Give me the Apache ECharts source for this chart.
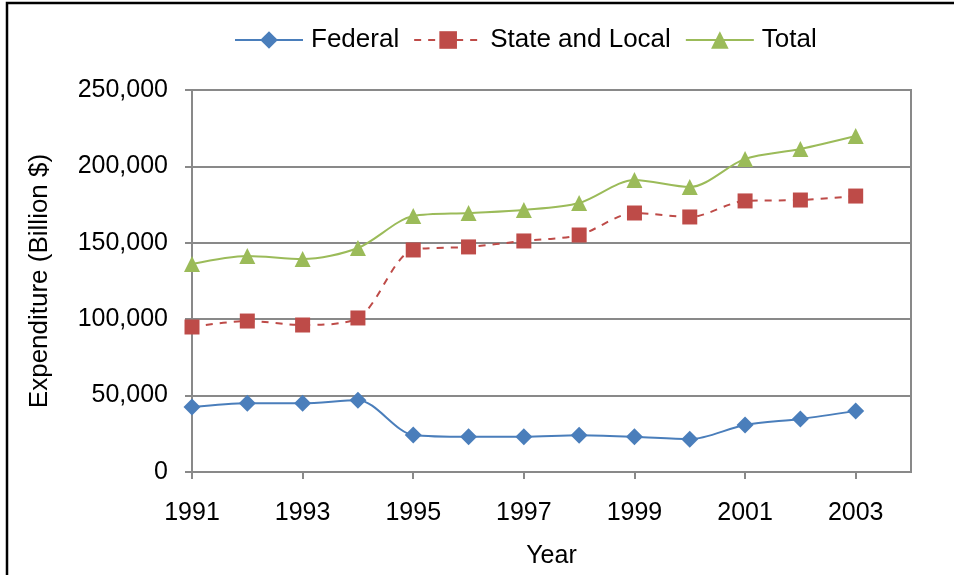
<!DOCTYPE html>
<html>
<head>
<meta charset="utf-8">
<script src="https://cdn.jsdelivr.net/npm/echarts@6/dist/echarts.min.js"></script>
<style>
    html, body { margin: 0; padding: 0; background: #fff; }
    #chart { width: 954px; height: 575px; }
</style>
</head>
<body>
<div id="chart"></div>
<script>
    // years on the x axis (2004 is an empty slot so the plot runs past 2003)
    var years = ['1991', '1992', '1993', '1994', '1995', '1996', '1997', '1998', '1999', '2000', '2001', '2002', '2003', '2004'];
    var federal = [42500, 45000, 45000, 47000, 24200, 23000, 23000, 24000, 23000, 21500, 30800, 34700, 40000];
    var stateLocal = [94900, 98800, 96200, 100800, 145300, 147300, 151200, 155100, 169500, 166900, 177400, 178000, 180600];
    var total = [136100, 141400, 139400, 146600, 167500, 169500, 171500, 176000, 191100, 186500, 204900, 211400, 219900];

    var font = 'Liberation Sans, Arial, sans-serif';
    var gray = '#898989';

    var chart = echarts.init(document.getElementById('chart'));
    chart.setOption({
        animation: false,
        textStyle: { fontFamily: font },
        graphic: [{
            type: 'rect',
            shape: { x: 7, y: 3, width: 1200, height: 1200 },
            style: { fill: 'none', stroke: '#000', lineWidth: 2.5 },
            silent: true
        }],
        legend: {
            top: 22,
            left: 229,
            itemWidth: 68,
            itemHeight: 22,
            itemGap: 14,
            textStyle: { fontSize: 26, color: '#000', fontFamily: font, padding: [0, 0, 0, 3] },
            data: ['Federal', 'State and Local', 'Total']
        },
        grid: {
            left: 192,
            right: 43,
            top: 90,
            bottom: 103,
            show: true,
            borderColor: gray,
            borderWidth: 2,
            containLabel: false
        },
        xAxis: {
            type: 'category',
            data: years,
            boundaryGap: false,
            name: 'Year',
            nameLocation: 'middle',
            nameGap: 72,
            nameTextStyle: { fontSize: 25, color: '#000', fontFamily: font },
            axisLine: { lineStyle: { color: gray, width: 2 } },
            axisTick: { show: true, interval: 1, length: 7, lineStyle: { color: gray, width: 2 } },
            axisLabel: { interval: 1, margin: 29, fontSize: 25, color: '#000', fontFamily: font },
            splitLine: { show: false }
        },
        yAxis: {
            type: 'value',
            min: 0,
            max: 250000,
            interval: 50000,
            name: 'Expenditure (Billion $)',
            nameLocation: 'middle',
            nameGap: 139,
            nameTextStyle: { fontSize: 26, color: '#000', fontFamily: font },
            axisLine: { show: true, lineStyle: { color: gray, width: 2 } },
            axisTick: { show: true, length: 7, lineStyle: { color: gray, width: 2 } },
            axisLabel: {
                margin: 24,
                fontSize: 25,
                color: '#000',
                fontFamily: font,
                formatter: function (v) { return v.toLocaleString('en-US'); }
            },
            splitLine: { lineStyle: { color: gray, width: 2 } }
        },
        series: [
            {
                name: 'Federal',
                type: 'line',
                data: federal,
                smooth: 0.3,
                symbol: 'diamond',
                symbolSize: 17,
                color: '#4A7EBB',
                lineStyle: { width: 2, color: '#4A7EBB' },
                itemStyle: { color: '#4A7EBB' }
            },
            {
                name: 'State and Local',
                type: 'line',
                data: stateLocal,
                smooth: 0.3,
                symbol: 'rect',
                symbolSize: 15,
                color: '#BE4B48',
                lineStyle: { width: 2, type: [7, 7], color: '#BE4B48' },
                itemStyle: { color: '#BE4B48' }
            },
            {
                name: 'Total',
                type: 'line',
                data: total,
                smooth: 0.3,
                symbol: 'triangle',
                symbolSize: 16,
                color: '#9BBB59',
                lineStyle: { width: 2, color: '#9BBB59' },
                itemStyle: { color: '#9BBB59' }
            }
        ]
    });
</script>
</body>
</html>
